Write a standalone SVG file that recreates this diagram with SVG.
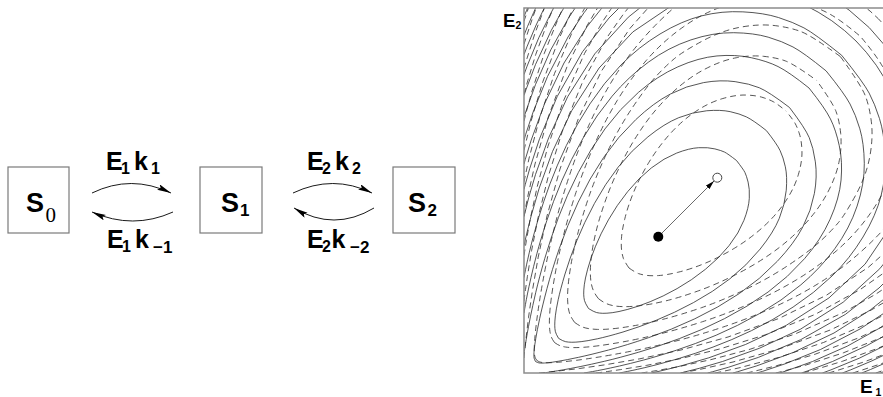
<svg xmlns="http://www.w3.org/2000/svg" width="883" height="397" viewBox="0 0 883 397">
<defs>
<style>
.box{fill:none;stroke:#7a7a7a;stroke-width:1.2}
.lbl{font-family:"Liberation Sans",Arial,sans-serif;font-weight:bold;fill:#000}
.sub0{font-family:"Liberation Serif","Times New Roman",serif;fill:#000}
.conn{fill:none;stroke:#1a1a1a;stroke-width:1;marker-end:url(#ah)}
.sol{fill:none;stroke:#2a2a2a;stroke-width:0.8;stroke-linejoin:round}
.dsh{fill:none;stroke:#2a2a2a;stroke-width:0.8;stroke-dasharray:6 4;stroke-linejoin:round}
</style>
<marker id="ah" markerUnits="userSpaceOnUse" viewBox="0 0 15 7" markerWidth="15" markerHeight="7" refX="14" refY="3" orient="auto"><path d="M0,0 L14,3 L0,6 L2.5,3 z" fill="#000"/></marker>
<marker id="ah2" markerUnits="userSpaceOnUse" viewBox="0 0 10 6" markerWidth="10" markerHeight="6" refX="9" refY="3" orient="auto"><path d="M0,0.5 L9,3 L0,5.5 z" fill="#000"/></marker>
<clipPath id="pc"><rect x="524" y="8" width="365" height="365"/></clipPath>
</defs>
<rect width="883" height="397" fill="#fff"/>

<g id="S0">
<rect class="box" x="8" y="167" width="61" height="66"/>
<text class="lbl" x="26" y="212" font-size="27">S</text>
<text class="sub0" x="45.5" y="222" font-size="21">0</text>
</g>
<g id="S1">
<rect class="box" x="200" y="167" width="62" height="66"/>
<text class="lbl" x="221" y="212" font-size="27">S</text>
<text class="lbl" x="240" y="216" font-size="17">1</text>
</g>
<g id="S2">
<rect class="box" x="393" y="167" width="62" height="66"/>
<text class="lbl" x="408" y="212" font-size="27">S</text>
<text class="lbl" x="427.5" y="216" font-size="17">2</text>
</g>

<g id="connectors">
<path class="conn" d="M92,193 Q131,174 171,193"/>
<path class="conn" d="M173,212 Q133,230 92,212"/>
<path class="conn" d="M293,193 Q333,174 372,193"/>
<path class="conn" d="M374,208 Q334,232 294,208"/>
</g>

<g id="labels">
<text class="lbl" x="106" y="170" font-size="25">E</text>
<text class="lbl" x="121" y="174" font-size="16">1</text>
<text class="lbl" x="134" y="170" font-size="25">k</text>
<text class="lbl" x="151" y="174" font-size="16">1</text>
<text class="lbl" x="107" y="248" font-size="25">E</text>
<text class="lbl" x="122" y="252" font-size="16">1</text>
<text class="lbl" x="135" y="248" font-size="25">k</text>
<text class="lbl" x="153" y="253" font-size="17">−1</text>
<text class="lbl" x="307" y="170" font-size="25">E</text>
<text class="lbl" x="322" y="174" font-size="16">2</text>
<text class="lbl" x="335" y="170" font-size="25">k</text>
<text class="lbl" x="352" y="174" font-size="16">2</text>
<text class="lbl" x="307" y="248" font-size="25">E</text>
<text class="lbl" x="322" y="252" font-size="16">2</text>
<text class="lbl" x="331.5" y="248" font-size="25">k</text>
<text class="lbl" x="350" y="253" font-size="17">−2</text>
</g>

<g id="plot">
<g clip-path="url(#pc)">
<g transform="translate(524,373) scale(1,-1)">
<g id="halves">
<path class="sol" d="M64.5,64.5 Q69.9,61.1 72.55,60.45 Q75.2,59.8 78.8,59.7 Q82.4,59.6 88.2,60.3 Q94,61 103.85,63.65 Q113.7,66.3 126.2,71.3 Q138.7,76.3 153.1,84.4 Q167.5,92.5 181.35,103.65 Q195.2,114.8 205.1,127.4 Q215,140 219.9,152.6 Q224.8,165.2 225.3,174.7 Q225.8,184.2 224.1,190.9 Q222.4,197.6 220.9,200.6 Q219.4,203.6 212.5,212.5"/>
<path class="sol" d="M34.6,34.6 Q39.2,31.8 41.7,31.3 Q44.2,30.8 47.75,30.75 Q51.3,30.7 57.15,31.35 Q63,32 73.3,34.2 Q83.6,36.4 99,41 Q114.4,45.6 132.25,52.75 Q150.1,59.9 169.55,70.45 Q189,81 205.85,94.15 Q222.7,107.3 236.1,123.9 Q249.5,140.5 255.3,154.7 Q261.1,168.9 262.25,182.75 Q263.4,196.6 261.35,206.15 Q259.3,215.7 256.1,222.4 Q252.9,229.1 242.4,242.4"/>
<path class="sol" d="M11.5,11.5 Q13.7,10.3 14.9,10.1 Q16.1,9.9 18.1,9.9 Q20.1,9.9 23.75,10.25 Q27.4,10.6 34.7,11.8 Q42,13 54.35,15.65 Q66.7,18.3 84.5,23 Q102.3,27.7 124.65,35.35 Q147,43 170.8,54.2 Q194.6,65.4 215.45,79.55 Q236.3,93.7 253.3,111.7 Q270.3,129.7 278.85,146.15 Q287.4,162.6 290.4,179.6 Q293.4,196.6 291.35,211.15 Q289.3,225.7 285.25,235.3 Q281.2,244.9 265.5,265.5"/>
<path class="sol" d="M19.5,0 Q21.7,0.3 23.85,0.65 Q26,1 29.45,1.55 Q32.9,2.1 39.3,3.2 Q45.7,4.3 56.15,6.4 Q66.6,8.5 80.75,11.8 Q94.9,15.1 114.3,20.7 Q133.7,26.3 155.55,34.45 Q177.4,42.6 200.6,54.4 Q223.8,66.2 244.05,80.95 Q264.3,95.7 280.6,114.4 Q296.9,133.1 306.15,153.85 Q315.4,174.6 317.05,192.95 Q318.7,211.3 315.3,227.2 Q311.9,243.1 306.45,254.05 Q301,265 285,285"/>
<path class="sol" d="M60,0 Q64.3,0.7 68.55,1.45 Q72.8,2.2 79.05,3.45 Q85.3,4.7 95.5,7 Q105.7,9.3 119.55,12.95 Q133.4,16.6 152.25,22.75 Q171.1,28.9 192.2,37.8 Q213.3,46.7 235.55,59.45 Q257.8,72.2 276.85,88.15 Q295.9,104.1 310.75,124.25 Q325.6,144.4 333.1,166.9 Q340.6,189.4 340.3,209.7 Q340,230 335.85,244.15 Q331.7,258.3 326.05,268.95 Q320.4,279.6 302.1,302.1"/>
<path class="sol" d="M95.4,0 Q99.3,0.7 103.45,1.55 Q107.6,2.4 113.75,3.75 Q119.9,5.1 129.9,7.6 Q139.9,10.1 155.35,14.65 Q170.8,19.2 189.05,25.95 Q207.3,32.7 227.6,42.4 Q247.9,52.1 269.1,65.95 Q290.3,79.8 308.05,97 Q325.8,114.2 339,136 Q352.2,157.8 357.2,177.8 Q362.2,197.8 361.15,218.85 Q360.1,239.9 355.45,254.55 Q350.8,269.2 345.15,279.9 Q339.5,290.6 317.7,317.7"/>
<path class="sol" d="M127.3,0 L132,1 141.8,3.3 157.7,7.3 184.8,15.2 221.5,28.5 262.3,47.7 305,75.1 341.1,108.9 365.3,144.7 374.3,165.7 382.5,217.5 373.6,266.4 366.5,283.6 360.9,294.1 352.3,307.7 342.3,320.7 332,332"/>
<path class="sol" d="M156.5,0 L161.7,1.3 175.3,4.7 198.5,11.5 235.3,24.7 276.3,43.7 319.2,70.8 355.8,104.3 369.1,120.9 M378.2,301.8 L370.4,314.6 362.9,325.1 345.3,345.3"/>
<path class="sol" d="M183.6,0 L188.7,1.3 204.3,5.7 234.4,15.6 276.7,33.3 321.4,58.6 355,85 370,100"/>
<path class="sol" d="M209,0 L213.7,1.3 232.9,7.2 269.4,20.6 310,40 346.7,63.3 363.4,76.6 373.9,86.1"/>
<path class="sol" d="M233,0 L238.4,1.6 260.9,9.1 296.5,23.5 336,44 360.1,59.9 371.4,68.6"/>
<path class="sol" d="M255.8,0 L262.8,2.3 288.5,11.5 323.2,26.8 355.3,44.7 367.3,52.7"/>
<path class="sol" d="M277.5,0 L283.1,1.9 308.5,11.5 342.7,27.3 362,38 368.2,41.8"/>
<path class="sol" d="M298.4,0 L306.9,3.1 335.3,14.8 362,28 368.4,31.6"/>
<path class="sol" d="M318.4,0 L326.8,3.2 347.9,12.1 364.8,20.2 371.4,23.6"/>
<path class="sol" d="M337.7,0 L346.5,3.5 360.4,9.6 367.3,12.7"/>
<path class="sol" d="M356.4,0 L362.5,2.5 367.4,4.6"/>
<path class="dsh" d="M105,105 Q111.6,100.4 114.7,99.35 Q117.8,98.3 122.4,97.65 Q127,97 134.55,97.45 Q142.1,97.9 154.2,100.8 Q166.3,103.7 180.5,109.5 Q194.7,115.3 210.3,124.7 Q225.9,134.1 239.05,145.95 Q252.2,157.8 261.25,171.25 Q270.3,184.7 274.3,198.2 Q278.3,211.7 277.95,222.05 Q277.6,232.4 275.45,239.05 Q273.3,245.7 271.1,249.65 Q268.9,253.6 262,262"/>
<path class="dsh" d="M74.4,74.4 Q79.5,70.5 82.85,69.2 Q86.2,67.9 89.85,67.2 Q93.5,66.5 99.7,66.35 Q105.9,66.2 116.2,67.35 Q126.5,68.5 140.65,71.85 Q154.8,75.2 173.25,81.75 Q191.7,88.3 211.65,98.35 Q231.6,108.4 249.1,120.9 Q266.6,133.4 281,149 Q295.4,164.6 303.95,181.05 Q312.5,197.5 315.25,212.25 Q318,227 316.65,239.85 Q315.3,252.7 312.05,261.45 Q308.8,270.2 292.6,292.6"/>
<path class="dsh" d="M50.6,50.6 Q55.4,47.2 58.2,46.1 Q61,45 64.65,44.4 Q68.3,43.8 73.45,43.6 Q78.6,43.4 86.95,44.1 Q95.3,44.8 108.1,46.95 Q120.9,49.1 138.85,53.65 Q156.8,58.2 177.3,65.25 Q197.8,72.3 221.5,83.55 Q245.2,94.8 266.1,108.9 Q287,123 297.35,132.7 Q307.7,142.4 314.5,150.55 Q321.3,158.7 331.85,178.15 Q342.4,197.6 345.85,216.7 Q349.3,235.8 347.35,251.25 Q345.4,266.7 341.3,277.25 Q337.2,287.8 316.4,316.4"/>
<path class="dsh" d="M30.5,30.5 Q34,28 36.35,27.2 Q38.7,26.4 41.6,25.95 Q44.5,25.5 48.6,25.4 Q52.7,25.3 59.3,25.7 Q65.9,26.1 76.05,27.45 Q86.2,28.8 101,31.5 Q115.8,34.2 135.9,39.1 Q156,44 178.65,51.35 Q201.3,58.7 225.75,69.25 Q250.2,79.8 272.05,92.95 Q293.9,106.1 312.65,122.35 Q331.4,138.6 345.95,159.05 Q360.5,179.5 367.75,202.25 Q375,225 374.5,245.5 Q374,266 369.5,280.5 Q365,295 358.55,306.45 Q352.1,317.9 336.5,336.5"/>
<path class="dsh" d="M12.7,12.7 Q14.5,11.5 15.65,11.1 Q16.8,10.7 18.25,10.5 Q19.7,10.3 21.75,10.25 Q23.8,10.2 27.65,10.35 Q31.5,10.5 37.45,11.05 Q43.4,11.6 52.3,12.7 Q61.2,13.8 74.15,15.85 Q87.1,17.9 105.95,21.55 Q124.8,25.2 148.8,31.2 Q172.8,37.2 199.05,45.95 Q225.3,54.7 249.4,65.6 Q273.5,76.5 295.1,89.9 Q316.7,103.3 335.25,119.75 Q353.8,136.2 367.4,152.6 M381,319 L372.6,332.4 361.9,346.1 354.3,354.3"/>
<path class="dsh" d="M15,0 L16.8,0.2 20.5,0.5 26.8,1.2 37.7,2.4 55.5,4.5 81.7,8.3 115.8,14.2 157,23 204,36 255.3,54.7 302.3,77.7 344.3,105.7 365.5,124.5 370.5,129.5"/>
<path class="dsh" d="M72.1,0 L75.6,0.4 83.5,1.5 96.6,3.4 122.4,7.6 155.8,14.2 196,24.1 241.7,38.3 291.3,58.7 336.4,83.6 359.9,100.1 370.9,109.1"/>
<path class="dsh" d="M117.5,0 L121.4,0.6 132.6,2.4 153.8,6.2 186.7,13.3 226.2,23.8 271,39 319.5,60.5 351.4,78.6 363.4,86.6 369.2,90.8"/>
<path class="dsh" d="M156.5,0 L161.2,0.8 176.3,3.7 209,11 255.8,24.2 306.8,43.2 347.1,62.9 366,74.1"/>
<path class="dsh" d="M191.2,0 L196,1 214.9,5.1 254.5,15.5 299.5,30.5 341.5,48.5 361.3,58.7 367.7,62.3"/>
<path class="dsh" d="M222.7,0 L228.7,1.4 252.7,7.3 291.2,18.8 334.8,35.2 362.1,47.9 368.7,51.3"/>
<path class="dsh" d="M251.8,0 L258.4,1.6 282,8 319.7,20.3 355.4,34.6 365.7,39.3"/>
<path class="dsh" d="M279,0 L287.7,2.4 318.4,11.7 354.9,25.1 365.4,29.6"/>
<path class="dsh" d="M304.5,0 L312.7,2.4 339.2,10.8 364.7,20.3 368.2,21.8"/>
<path class="dsh" d="M328.8,0 L337.3,2.7 356.1,8.9 367.1,12.9"/>
<path class="dsh" d="M351.8,0 L361.7,3.3 366.9,5.1"/>
</g>
<use href="#halves" transform="matrix(0,1,1,0,0,0)"/>
</g>
</g>
<rect x="524" y="8" width="365" height="365" fill="none" stroke="#8c8c8c" stroke-width="1.5"/>
<line x1="658.3" y1="236.7" x2="714" y2="181" stroke="#6a6a6a" stroke-width="1" marker-end="url(#ah2)"/>
<circle cx="658.3" cy="236.7" r="5" fill="#000"/>
<circle cx="717.3" cy="177.7" r="4.5" fill="#fff" stroke="#444" stroke-width="1"/>
<text class="lbl" x="503" y="26.5" font-size="18.5">E</text>
<text class="lbl" x="515.5" y="28.5" font-size="10.5">2</text>
<text class="lbl" x="860" y="393" font-size="19">E</text>
<text class="lbl" x="875.5" y="396" font-size="10.5">1</text>
</g>
</svg>
